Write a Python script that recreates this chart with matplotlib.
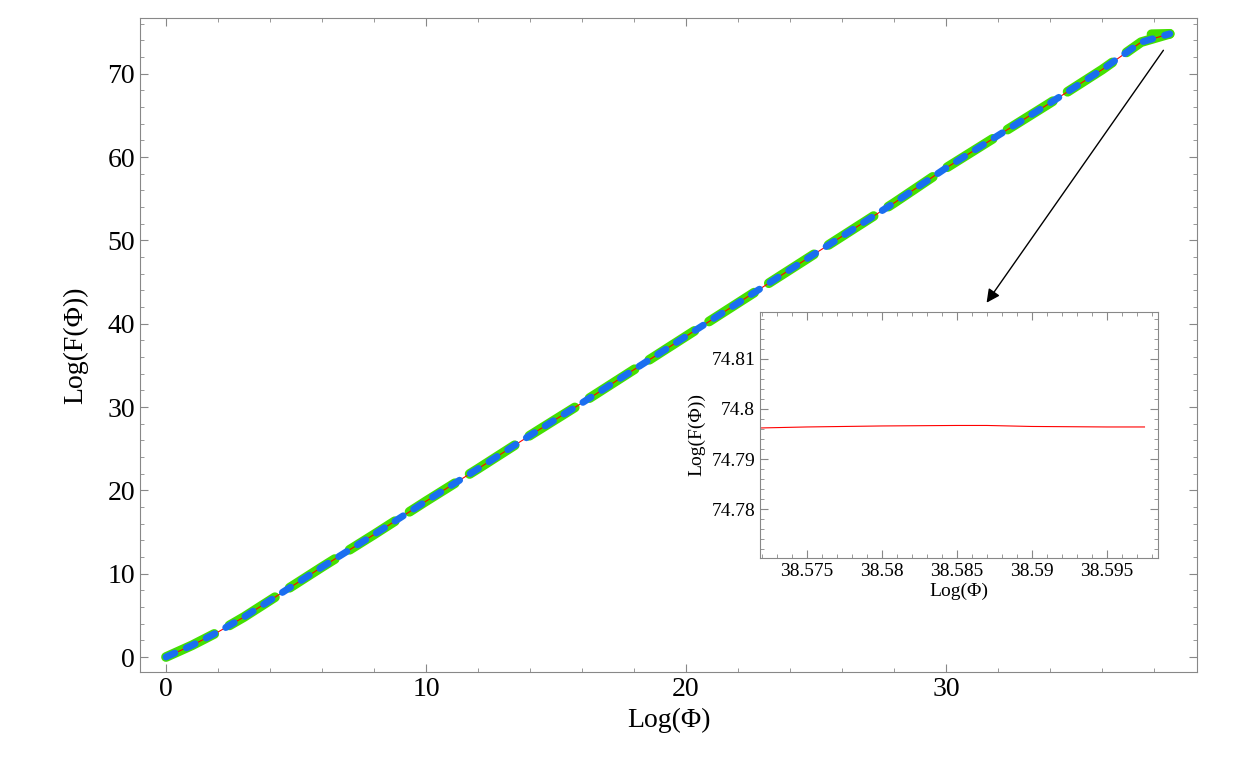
import numpy as np
import matplotlib.pyplot as plt
from matplotlib.ticker import MultipleLocator

plt.rcParams['font.family'] = ['Liberation Serif', 'DejaVu Serif']

# main curve
log_phi = [0, 1, 2, 3, 4, 5, 6, 8, 10, 12, 14, 16, 18, 20, 22, 24, 26, 28,
           30, 32, 34, 36, 37.5, 38.6]
log_f = [0, 1.4, 3.0, 4.8, 6.8, 8.8, 10.8, 14.7, 18.7, 22.6, 26.6, 30.5,
         34.5, 38.5, 42.5, 46.5, 50.5, 54.5, 58.7, 62.6, 66.5, 70.5, 73.8, 74.8]
# short flat bit at the end of the main curve
end_phi = [37.9, 38.6]
end_f = [74.75, 74.8]

# inset data
zoom_phi = [38.5719, 38.575, 38.58, 38.585, 38.587, 38.59, 38.595, 38.5975]
zoom_f = [74.7962, 74.7964, 74.7966, 74.7967, 74.7967, 74.7965, 74.7964, 74.7964]

GRAY = '#888888'


def style_axes(ax, size):
    for s in ax.spines.values():
        s.set_color(GRAY)
    ax.tick_params(which='both', direction='in', top=True, right=True,
                   color=GRAY, labelsize=size)
    ax.tick_params(which='major', length=6)
    ax.tick_params(which='minor', length=3)


fig = plt.figure(figsize=(12.5, 7.73), dpi=100)
ax = fig.add_axes([140 / 1250, 1 - 672 / 773, 1057 / 1250, 654 / 773])
ax.plot(log_phi, log_f, color='#44e000', lw=7, dashes=(5.5, 1.8),
        dash_capstyle='round')
ax.plot(end_phi, end_f, color='#44e000', lw=7, solid_capstyle='round')
ax.plot(log_phi, log_f, color='red', lw=0.8)
ax.plot(log_phi, log_f, color='#1a6ef0', lw=5, dashes=(1.4, 1.8),
        dash_capstyle='round')
ax.set_xlim(-1, 39.65)
ax.set_ylim(-1.8, 76.7)
ax.xaxis.set_major_locator(MultipleLocator(10))
ax.xaxis.set_minor_locator(MultipleLocator(2))
ax.yaxis.set_major_locator(MultipleLocator(10))
ax.yaxis.set_minor_locator(MultipleLocator(2))
style_axes(ax, 20)
ax.set_xlabel('Log(Φ)', fontsize=20, labelpad=4)
ax.set_ylabel('Log(F(Φ))', fontsize=20, labelpad=14)

ins = fig.add_axes([760 / 1250, 1 - 558 / 773, 398 / 1250, 246 / 773])
ins.plot(zoom_phi, zoom_f, color='red', lw=0.8)
ins.set_xlim(38.5719, 38.5984)
ins.set_ylim(74.7703, 74.8193)
ins.xaxis.set_major_locator(MultipleLocator(0.005))
ins.xaxis.set_minor_locator(MultipleLocator(0.001))
ins.yaxis.set_major_locator(MultipleLocator(0.01))
ins.yaxis.set_minor_locator(MultipleLocator(0.002))
ins.xaxis.set_major_formatter(plt.FuncFormatter(lambda v, p: f'{v:.3f}'.rstrip('0')))
ins.yaxis.set_major_formatter(plt.FuncFormatter(lambda v, p: f'{v:.2f}'.rstrip('0')))
style_axes(ins, 14)
ins.set_xlabel('Log(Φ)', fontsize=14, labelpad=2)
ins.set_ylabel('Log(F(Φ))', fontsize=14)

fig.add_artist(plt.Annotation('', xy=(985 / 1250, 1 - 305 / 773),
                              xytext=(1165 / 1250, 1 - 48 / 773),
                              xycoords='figure fraction',
                              textcoords='figure fraction',
                              arrowprops=dict(arrowstyle='-|>', color='black',
                                              lw=1, mutation_scale=20)))

fig.savefig('out.png')
